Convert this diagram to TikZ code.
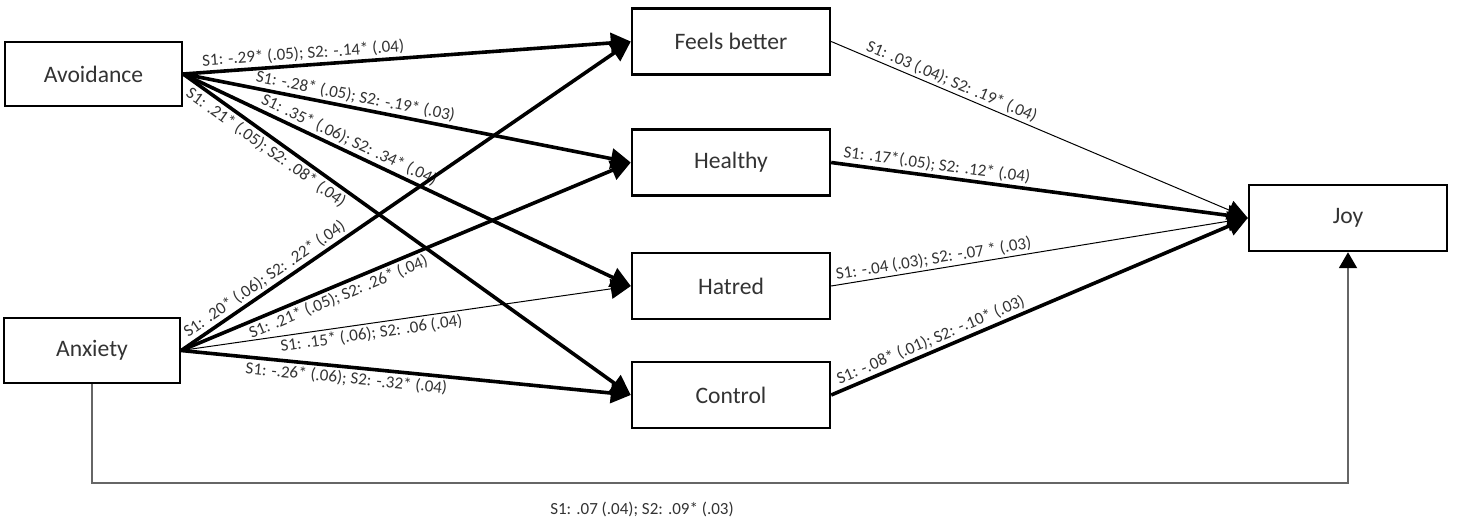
\documentclass[tikz,border=0pt]{standalone}
\usepackage{fontspec}
\setmainfont{Carlito}
\usetikzlibrary{arrows.meta}
\begin{document}
\begin{tikzpicture}[x=0.5pt,y=-0.5pt,
  box/.style={draw, line width=1.2pt, font=\fontsize{11.8}{14}\selectfont, text=black!80, inner sep=0pt},
  mbox/.style={box, minimum width=99pt, minimum height=33pt},
  arr/.style={line width=1.8pt, -{Triangle[length=10pt,width=10pt]}},
  tarr/.style={line width=0.5pt, -{Triangle[length=10pt,width=10pt]}},
  lab/.style={font=\fontsize{8.5}{10}\selectfont, sloped, inner sep=1.2pt, text=black!80},
  blab/.style={font=\fontsize{8.5}{10}\selectfont, inner sep=1.2pt, text=black!80}]
\useasboundingbox (0,0) rectangle (1462,525);
\fill[white] (0,0) rectangle (1462,525);

\node[box, minimum width=88.5pt, minimum height=32pt] (av) at (93.5,74) {Avoidance};
\node[box, minimum width=88pt, minimum height=32.5pt] (ax) at (92,350.5) {Anxiety};
\node[mbox] (fb) at (731,41.5) {Feels better};
\node[mbox] (he) at (731,162.5) {Healthy};
\node[mbox] (ha) at (731,286) {Hatred};
\node[mbox] (co) at (731,395) {Control};
\node[mbox] (joy) at (1348,218) {Joy};

\draw[arr] (av.east) -- node[lab,pos=.27,above]{S1: -.29* (.05); S2: -.14* (.04)} (fb.west);
\draw[arr] (av.east) -- node[lab,pos=.38,above]{S1: -.28* (.05); S2: -.19* (.03)} (he.west);
\draw[arr] (av.east) -- node[lab,pos=.36,above]{S1: .35* (.06); S2: .34* (.04)} (ha.west);
\draw[arr] (av.east) -- node[lab,pos=.2,below]{S1: .21* (.05); S2: .08* (.04)} (co.west);

\draw[arr] (ax.east) -- node[lab,pos=.2,above]{S1: .20* (.06); S2: .22* (.04)} (fb.west);
\draw[arr] (ax.east) -- node[lab,pos=.34,below]{S1: .21* (.05); S2: .26* (.04)} (he.west);
\draw[tarr] (ax.east) -- node[lab,pos=.42,below]{S1: .15* (.06); S2: .06 (.04)} (ha.west);
\draw[arr] (ax.east) -- node[lab,pos=.37,below]{S1: -.26* (.06); S2: -.32* (.04)} (co.west);

\draw[tarr] (fb.east) -- node[lab,pos=.28,above]{S1: .03 (.04); S2: .19* (.04)} (joy.west);
\draw[arr] (he.east) -- node[lab,pos=.25,above]{S1: .17*(.05); S2: .12* (.04)} (joy.west);
\draw[tarr] (ha.east) -- node[lab,pos=.25,above]{S1: -.04 (.03); S2: -.07 * (.03)} (joy.west);
\draw[arr] (co.east) -- node[lab,pos=.25,above]{S1: -.08* (.01); S2: -.10* (.03)} (joy.west);

\coordinate (bl) at (92,483);
\draw[line width=1pt, black!60, -{Triangle[length=8pt,width=9pt,color=black]}] (ax.south) -- (ax.south |- bl) -| (joy.south);
\node[blab] (bot) at (642,509) {S1: .07 (.04); S2: .09* (.03)};
\end{tikzpicture}
\end{document}
